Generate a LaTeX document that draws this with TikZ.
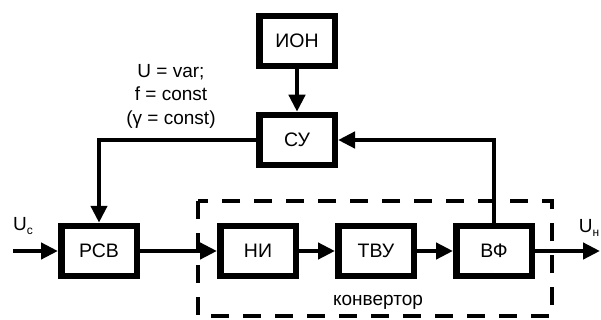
\documentclass[tikz,border=0pt]{standalone}
\usepackage{fontspec}
\setmainfont{Liberation Sans}
\usetikzlibrary{arrows.meta}
\begin{document}
\begin{tikzpicture}[x=1pt,y=-1pt,>={Triangle[length=17pt,width=16pt]},
    blok/.style={draw,line width=6.5pt,minimum width=75.5pt,minimum height=50pt,inner sep=0pt,
        font=\fontsize{19.5}{23}\selectfont},
    link/.style={->,line width=4.5pt}]
    \useasboundingbox (0,0) rectangle (601,320);
    % blocchi
    \node[blok] (ion) at (297,41) {ИОН};
    \node[blok] (su) at (297,140) {СУ};
    \node[blok] (rsv) at (99,251) {РСВ};
    \node[blok] (ni) at (258,251) {НИ};
    \node[blok] (tvu) at (376,251) {ТВУ};
    \node[blok] (vf) at (494,251) {ВФ};
    % convertitore (tratteggiato)
    \draw[line width=4.5pt,dash pattern=on 18pt off 14pt] (198,201) rectangle (552,316);
    \node[font=\fontsize{19}{22}\selectfont] (konv) at (378,302) {конвертор};
    % ingresso e uscita
    \coordinate (uin) at (13,251);
    \coordinate (uout) at (600,251);
    \node[font=\fontsize{19}{22}\selectfont] (uc) at (23,226) {U\raisebox{-0.35ex}{\fontsize{12}{12}\selectfont с}};
    \node[font=\fontsize{19}{22}\selectfont] (un) at (589,228) {U\raisebox{-0.35ex}{\fontsize{12}{12}\selectfont н}};
    % collegamenti
    \draw[link] (uin) -- (rsv);
    \draw[link] (rsv) -- (ni);
    \draw[link] (ni) -- (tvu);
    \draw[link] (tvu) -- (vf);
    \draw[link] (vf) -- (uout);
    \draw[link] (ion) -- (su);
    \draw[link] (su.west) -| (rsv.north);
    \draw[link] (vf.north) |- (su.east);
    % legge di controllo
    \node[font=\fontsize{19}{23.5}\selectfont,align=center] (zakon) at (171,96)
        {U = var;\\ f = const\\ (γ = const)};
\end{tikzpicture}
\end{document}
